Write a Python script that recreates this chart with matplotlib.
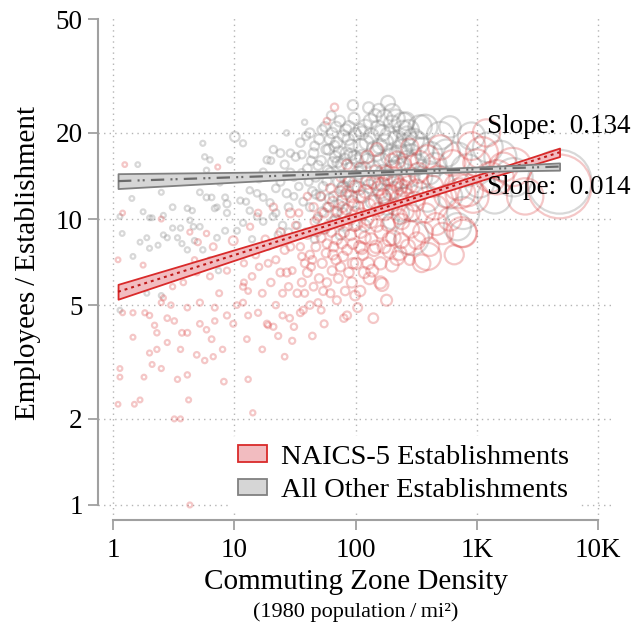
import numpy as np
import matplotlib.pyplot as plt
from matplotlib.patches import Patch

# Commuting zones: (density 1980 pop/mi2, employees per establishment, population in thousands)
red_points = [
    (1.1, 7.2, 10), (1.2, 10.5, 8), (1.25, 15.5, 8), (1.14, 3.0, 12), (1.14, 2.8, 10), (1.1, 2.25, 8), (1.46, 3.86, 15), (1.2, 4.7, 12), (1.46, 4.7, 20), (1.77, 6.9, 15),
    (1.83, 4.7, 20), (2.0, 3.4, 18), (1.8, 2.8, 10), (1.5, 2.25, 10), (1.67, 2.33, 12), (1.6, 6.0, 10), (2.5, 10.0, 15), (2.1, 3.1, 15), (2.5, 3.0, 20), (2.3, 3.5, 25),
    (2.8, 3.7, 20), (3.4, 2.75, 25), (4.1, 2.85, 30), (4.2, 2.33, 15), (3.2, 2.0, 15), (3.6, 2.0, 15), (4.3, 1.0, 15), (4.9, 3.35, 40), (5.7, 3.2, 30), (6.7, 3.3, 25),
    (8.2, 2.7, 40), (2.0, 4.6, 30), (2.2, 4.25, 25), (2.3, 4.0, 30), (2.8, 4.5, 40), (3.2, 4.4, 35), (3.7, 4.0, 45), (4.1, 4.0, 50), (5.2, 4.3, 40), (5.9, 4.1, 35),
    (6.5, 3.8, 45), (3.6, 3.5, 25), (6.9, 4.9, 50), (8.7, 4.6, 60), (9.8, 4.3, 50), (2.6, 5.3, 20), (4.1, 4.9, 40), (5.2, 5.1, 60), (6.9, 4.4, 30), (4.9, 6.5, 40),
    (6.3, 6.3, 50), (5.0, 8.3, 60), (4.3, 9.0, 20), (4.7, 7.2, 30), (3.8, 6.0, 35), (3.1, 5.8, 25), (2.5, 5.1, 20), (9.8, 8.4, 200), (6.7, 8.0, 90), (6.7, 7.0, 40),
    (8.7, 6.6, 60), (7.5, 5.5, 50), (8.0, 3.5, 30), (3.0, 5.0, 30), (7.3, 15.2, 15), (5.9, 8.9, 30),
    (11.8, 5.8, 60), (14, 6.3, 80), (11.8, 5.1, 50), (13, 2.75, 30), (14.2, 2.1, 25), (12.7, 3.8, 40), (19, 4.25, 50), (23, 3.9, 60), (13, 4.6, 50), (15.7, 4.7, 60),
    (18.6, 4.3, 70), (21, 4.2, 60), (17, 3.5, 40), (28.6, 4.5, 80), (26, 3.3, 40), (12, 7.0, 60), (15, 7.5, 100), (17, 5.5, 90), (20, 6.0, 120), (22, 7.2, 100),
    (25, 5.5, 90), (27, 6.5, 150), (15.7, 10.5, 80), (13.5, 9.4, 60), (18, 8.5, 120), (24, 9.0, 150), (29, 8.0, 130), (16, 6.8, 70), (13, 5.6, 40), (22, 5.0, 70),
    (28, 5.8, 110), (26, 7.8, 160), (19, 7.0, 90), (24, 6.5, 140), (21, 11.0, 120), (29, 10.5, 200), (17, 8.0, 80), (12, 6.0, 50), (10.5, 5.0, 40), (25, 4.6, 60),
    (30, 3.75, 60), (31, 4.2, 70), (35, 4.7, 90), (37, 4.8, 100), (42, 5.0, 120), (44, 3.9, 80), (49, 5.1, 100), (85, 4.6, 150), (55, 4.3, 100), (33, 5.5, 120),
    (36, 6.0, 150), (40, 6.5, 200), (45, 5.8, 140), (50, 6.2, 180), (38, 7.0, 130), (42, 7.5, 160), (47, 8.0, 200), (53, 7.0, 220), (58, 6.0, 180), (62, 5.5, 150),
    (65, 7.5, 250), (70, 8.5, 300), (75, 6.8, 220), (80, 9.0, 280), (85, 7.8, 260), (90, 10.0, 350), (95, 8.2, 300), (60, 9.5, 240), (55, 10.5, 200), (48, 9.0, 180),
    (40, 8.8, 150), (35, 8.0, 120), (32, 9.5, 110), (45, 11.0, 170), (65, 11.5, 260), (75, 12.5, 300), (67, 24.6, 120), (58, 22.0, 80), (52, 12.0, 150), (88, 13.5, 320),
    (78, 11.0, 280), (92, 12.0, 400), (98, 9.5, 380), (68, 10.0, 230), (72, 6.2, 200), (82, 5.6, 180), (88, 6.5, 250), (95, 7.0, 300), (58, 8.2, 190), (62, 12.8, 200),
    (85, 15.5, 250), (80, 4.5, 120), (70, 5.2, 150), (38, 5.5, 100), (43, 6.8, 130), (56, 9.2, 180), (64, 6.6, 200), (99, 5.4, 250), (76, 14.0, 240), (34, 10.5, 100),
    (40, 12.0, 110), (52, 4.8, 90),
    (46, 9.8, 170), (52, 8.6, 200), (57, 7.6, 190), (63, 9.0, 220), (69, 7.2, 240), (74, 9.6, 260), (79, 7.4, 250), (84, 10.8, 300), (91, 8.8, 320), (97, 11.2, 380),
    (60, 11.0, 220), (66, 8.0, 230), (71, 10.6, 260), (77, 8.2, 260), (83, 12.2, 300), (93, 6.0, 280), (44, 7.2, 140), (49, 10.2, 160), (54, 5.6, 150), (36, 7.4, 110),
    (30, 6.6, 90),
    (105, 11.0, 350), (110, 9.0, 400), (115, 7.5, 300), (120, 12.5, 500), (125, 10.0, 450), (130, 6.2, 400), (135, 8.5, 420), (140, 13.5, 550), (145, 11.5, 500), (150, 9.5, 480),
    (160, 7.0, 450), (165, 5.9, 500), (170, 12.0, 600), (175, 10.5, 650), (180, 14.5, 600), (190, 8.5, 550), (200, 6.9, 500), (210, 11.0, 700), (220, 7.3, 600), (230, 13.0, 800),
    (240, 9.8, 750), (250, 15.5, 700), (260, 12.0, 900), (270, 8.0, 650), (280, 7.2, 300), (290, 10.5, 900), (110, 15.0, 400), (125, 16.5, 450), (150, 17.5, 500), (200, 16.0, 600),
    (180, 5.2, 350), (140, 4.5, 250), (104, 4.9, 200), (118, 6.5, 350), (155, 12.8, 550), (195, 13.8, 650), (230, 10.2, 700), (265, 14.0, 850), (100, 13.0, 400), (108, 8.0, 380),
    (112, 7.9, 400), (190, 7.7, 500), (230, 7.6, 600), (280, 17.8, 1000), (220, 16.1, 900), (160, 6.0, 450),
    (102, 9.6, 380), (107, 12.0, 420), (113, 10.4, 400), (119, 8.6, 420), (124, 13.4, 480), (129, 11.2, 460), (134, 9.8, 500), (142, 7.8, 450), (148, 14.6, 550), (153, 10.8, 520),
    (162, 9.0, 520), (168, 13.2, 600), (172, 8.0, 520), (178, 11.6, 640), (185, 9.6, 600), (193, 12.4, 700), (205, 8.6, 650), (215, 13.6, 750), (225, 11.8, 800), (238, 8.4, 700),
    (248, 12.8, 850), (258, 10.6, 850), (275, 13.2, 950), (285, 9.2, 900), (101, 7.0, 350), (109, 5.6, 300), (127, 7.0, 400), (137, 6.6, 420), (147, 8.0, 460),
    (320, 8.4, 900), (410, 8.0, 1100), (520, 8.9, 1500), (350, 7.0, 1000), (390, 7.4, 2500), (830, 12.6, 3500), (630, 15.7, 2200), (500, 17.8, 2000), (390, 16.5, 1800), (320, 12.6, 1500),
    (450, 11.0, 2000), (600, 10.0, 1800), (700, 13.0, 2500), (550, 12.0, 1600), (380, 10.5, 1200), (330, 14.5, 1300), (750, 9.0, 3000), (900, 18.0, 2600), (480, 14.0, 1700), (650, 7.5, 1200),
    (730, 12.3, 3000), (930, 11.9, 3200), (770, 8.9, 2500), (310, 11.5, 1200), (360, 9.0, 1300), (430, 13.0, 1500), (340, 16.0, 1200), (460, 9.6, 1600),
    (1000, 15.7, 2500), (1290, 14.0, 3000), (1650, 15.2, 2800), (1450, 14.0, 4000), (1970, 15.2, 5000), (4800, 13.0, 14000), (1100, 17.0, 3500), (2500, 12.0, 4500), (1200, 20.0, 2500),
]

gray_points = [
    (1.43, 11.8, 12), (2.5, 12.4, 15), (2.0, 10.1, 12), (2.1, 10.1, 10), (1.19, 8.9, 10), (1.46, 7.4, 10), (2.6, 8.8, 15), (3.1, 9.3, 20), (3.4, 8.6, 20), (4.1, 10.9, 30),
    (4.5, 10.7, 25), (3.7, 8.2, 20), (5.5, 18.4, 20), (5.9, 11.9, 50), (6.5, 11.9, 40), (7.2, 11.0, 30), (5.7, 16.5, 25), (6.3, 16.1, 30), (4.6, 9.4, 30), (5.2, 9.4, 35),
    (4.3, 9.9, 25), (2.6, 10.3, 15), (1.9, 8.6, 12), (1.67, 8.3, 10), (1.14, 10.2, 10), (2.0, 7.9, 15), (3.6, 9.3, 25), (4.7, 8.4, 30), (7.2, 8.6, 40), (5.5, 7.8, 30),
    (8.4, 9.1, 50), (8.7, 10.5, 60), (1.77, 10.6, 12), (2.35, 8.1, 15), (2.8, 8.6, 20), (2.5, 5.4, 15), (1.9, 5.5, 12), (1.14, 4.8, 8), (3.6, 6.6, 20), (4.1, 7.8, 25),
    (6.3, 7.2, 30), (7.4, 6.6, 30), (5.2, 12.4, 40), (6.9, 10.9, 50), (8.7, 11.3, 100), (7.6, 13.4, 40), (5.9, 14.8, 30), (9.2, 16.1, 40), (3.1, 11.0, 40), (8.4, 11.9, 50),
    (1.3, 13.5, 8), (1.6, 15.5, 8),
    (10.1, 19.4, 250), (11.8, 18.4, 60), (18.6, 16.1, 100), (20, 16.0, 90), (17.3, 14.6, 100), (13.4, 12.6, 70), (15.4, 12.3, 80), (11.2, 11.6, 60), (12.5, 11.5, 60), (17.3, 11.9, 90),
    (19.7, 11.4, 110), (13.4, 10.7, 70), (15.4, 10.2, 70), (11.8, 9.7, 60), (10.5, 9.1, 50), (17.3, 9.8, 80), (20.8, 10.2, 100), (27, 20.0, 30), (24, 13.5, 150), (26, 15.5, 160),
    (22, 12.8, 130), (28, 11.0, 140), (25, 9.5, 120), (14, 8.5, 60), (23, 8.8, 100), (29, 14.5, 180), (21, 17.5, 120), (16, 13.8, 80), (12, 14.0, 50), (27, 12.3, 150),
    (19, 8.0, 70), (12, 7.5, 40), (24, 17.0, 140), (28, 9.0, 120), (22, 10.5, 110), (29, 17.0, 120),
    (38, 21.8, 30), (95, 25.0, 300), (32, 16.5, 150), (34, 13.0, 120), (35, 18.5, 180), (37, 11.5, 140), (40, 15.0, 200), (42, 20.0, 220), (44, 12.5, 180), (45, 17.0, 250),
    (47, 14.0, 200), (48, 10.0, 150), (50, 19.0, 260), (52, 16.0, 230), (54, 13.0, 210), (56, 21.0, 250), (58, 11.0, 180), (60, 17.5, 300), (62, 14.5, 280), (64, 20.0, 310),
    (66, 12.0, 250), (68, 16.5, 330), (70, 18.5, 350), (72, 13.5, 300), (74, 22.0, 320), (76, 15.5, 360), (78, 10.5, 280), (80, 19.5, 380), (82, 14.0, 350), (84, 17.0, 400),
    (86, 12.5, 320), (88, 21.0, 400), (90, 15.0, 420), (92, 18.0, 450), (94, 11.5, 350), (96, 13.0, 400), (98, 16.5, 480), (33, 9.5, 100), (39, 9.0, 120), (46, 8.5, 140),
    (55, 9.2, 170), (65, 9.8, 220), (75, 8.8, 250), (85, 9.5, 300), (36, 14.5, 130), (43, 16.0, 170), (51, 12.0, 200), (59, 14.8, 240), (67, 18.0, 280), (73, 11.2, 260),
    (81, 16.2, 340), (89, 13.8, 380), (31, 12.0, 90), (41, 13.5, 150), (57, 17.5, 230), (63, 23.0, 200), (71, 15.8, 300), (79, 13.0, 320), (87, 19.0, 380), (97, 22.5, 350),
    (46, 18.0, 200), (49, 15.4, 220), (53, 20.5, 240), (58, 13.6, 230), (61, 19.0, 270), (65, 15.8, 290), (69, 21.0, 300), (73, 17.2, 320), (77, 12.8, 310), (83, 20.5, 360),
    (91, 16.8, 400), (99, 19.8, 450), (42, 11.0, 150), (47, 12.2, 180), (53, 10.6, 200), (61, 11.8, 240), (69, 10.6, 270), (77, 11.6, 300), (36, 16.8, 140), (39, 19.5, 150),
    (31, 14.0, 100),
    (105, 14.5, 500), (110, 18.0, 600), (115, 12.0, 450), (120, 21.0, 650), (125, 16.0, 600), (130, 13.0, 550), (135, 19.5, 700), (140, 15.0, 700), (145, 23.0, 500), (150, 17.0, 750),
    (160, 12.5, 650), (165, 20.0, 800), (170, 14.5, 800), (175, 18.5, 850), (180, 11.0, 700), (190, 16.5, 900), (200, 21.5, 900), (210, 13.5, 950), (220, 19.0, 1000), (230, 15.5, 1100),
    (240, 17.5, 1200), (250, 12.0, 1000), (260, 22.0, 1000), (270, 16.0, 1300), (280, 14.0, 1200), (290, 8.6, 4000), (100, 10.5, 400), (108, 20.5, 450), (118, 9.5, 400), (128, 24.5, 350),
    (155, 24.0, 500), (185, 25.5, 600), (195, 9.8, 700), (235, 10.5, 900), (265, 19.5, 1200), (112, 16.5, 550), (138, 11.5, 600), (158, 18.0, 700), (205, 15.0, 900), (245, 20.5, 1100),
    (200, 23.6, 900), (245, 21.6, 1500),
    (103, 16.0, 480), (107, 12.8, 480), (113, 20.0, 520), (117, 15.0, 540), (123, 18.5, 600), (127, 13.8, 560), (133, 22.0, 600), (143, 17.6, 700), (148, 13.4, 650), (153, 20.8, 700),
    (163, 16.0, 750), (168, 12.0, 700), (173, 22.6, 800), (183, 14.0, 850), (188, 19.6, 900), (198, 17.0, 950), (208, 12.6, 900), (215, 22.5, 1000), (225, 16.8, 1050), (238, 13.8, 1100),
    (255, 18.2, 1200), (275, 20.5, 1300), (285, 16.8, 1400),
    (300, 19.0, 1500), (320, 18.4, 1800), (375, 21.0, 2000), (500, 19.6, 2500), (690, 16.5, 2800), (830, 14.8, 3500), (1230, 17.8, 3000), (1560, 16.5, 3500), (1050, 13.4, 3000), (770, 10.5, 3500),
    (690, 9.4, 2500), (500, 13.7, 2200), (390, 11.7, 2000), (450, 15.5, 1800), (600, 12.0, 2000), (350, 14.0, 1500), (420, 17.0, 1600), (900, 19.5, 2500), (2000, 14.0, 5000), (4800, 13.5, 14000),
    (1400, 12.0, 4000), (600, 21.0, 1500), (310, 15.5, 1600), (340, 21.0, 1800), (400, 14.5, 1800), (360, 17.6, 1700), (560, 17.0, 2500),
]

# fitted lines in log10 space, with CI half width sqrt(se0^2 + (se1*(lx - lx0))^2)
red_slope, red_icpt = 0.134, 0.740
gray_slope, gray_icpt = 0.014, 1.132
red_se = (0.011, 0.0092, 2.6)
gray_se = (0.007, 0.0098, 2.6)
fit_range = (1.1, 4800)

red_label = 'NAICS-5 Establishments'
gray_label = 'All Other Establishments'
x_ticks = [1, 10, 100, 1000, 10000]
x_ticklabels = ['1', '10', '100', '1K', '10K']
y_ticks = [1, 2, 5, 10, 20, 50]
y_ticklabels = ['1', '2', '5', '10', '20', '50']

plt.rcParams['font.family'] = ['Liberation Serif', 'DejaVu Serif']

red_ring = (0.85, 0.2, 0.2, 0.27)
gray_ring = (0.5, 0.5, 0.5, 0.30)
red_fill, red_edge, red_mid = '#f2bcc0', '#d92a2a', '#c01818'
gray_fill, gray_edge, gray_mid = '#d6d6d6', '#808080', '#6a6a6a'
axis_col = '#a0a0a0'

fig = plt.figure(figsize=(6.35, 6.3), dpi=100)
ax = fig.add_axes([98 / 635, 110 / 630, 517 / 635, 505 / 630])
ax.set_xscale('log')
ax.set_yscale('log')
ax.set_xlim(0.752, 13750)
ax.set_ylim(0.886, 51.7)


def marker_size(pop):
    return 10 + 0.15 * np.asarray(pop, dtype=float)


for pts, col in [(gray_points, gray_ring), (red_points, red_ring)]:
    x, y, p = map(np.array, zip(*pts))
    order = np.argsort(-p)
    ax.scatter(x[order], y[order], s=marker_size(p[order]), facecolors='none',
               edgecolors=[col], linewidths=1.6, zorder=2)

lx = np.linspace(np.log10(fit_range[0]), np.log10(fit_range[1]), 200)


def band(slope, icpt, se):
    mid = icpt + slope * lx
    hw = np.sqrt(se[0] ** 2 + (se[1] * (lx - se[2])) ** 2)
    return 10 ** lx, 10 ** mid, 10 ** (mid - hw), 10 ** (mid + hw)


bx, bm, blo, bhi = band(red_slope, red_icpt, red_se)
ax.fill_between(bx, blo, bhi, facecolor=red_fill, edgecolor=red_edge, lw=1.3, zorder=3)
ax.plot(bx, bm, color=red_mid, lw=1.5, ls=(0, (1.4, 1.9)), zorder=3.1)

bx, bm, blo, bhi = band(gray_slope, gray_icpt, gray_se)
ax.fill_between(bx, blo, bhi, facecolor=gray_fill, edgecolor=gray_edge, lw=1.3, zorder=4)
ax.plot(bx, bm, color=gray_mid, lw=1.6, ls=(0, (6.0, 2.8, 0.9, 1.4, 0.9, 2.8)), zorder=4.1)

# axes styling
ax.set_xticks(x_ticks)
ax.set_xticklabels(x_ticklabels)
ax.set_yticks(y_ticks)
ax.set_yticklabels(y_ticklabels)
ax.minorticks_off()
ax.tick_params(direction='out', length=7, width=1.3, color=axis_col, labelsize=19.5,
               labelcolor='black')
ax.tick_params(axis='x', pad=6)
ax.tick_params(axis='y', pad=4)
for side in ['top', 'right']:
    ax.spines[side].set_visible(False)
for side in ['left', 'bottom']:
    ax.spines[side].set_color(axis_col)
    ax.spines[side].set_linewidth(1.5)
ax.spines['left'].set_bounds(1, 50)
ax.spines['bottom'].set_bounds(1, 10000)
ax.grid(True, ls=(0, (1, 3)), color='#b4b4b4', lw=1, zorder=0)
ax.set_axisbelow(True)
ax.yaxis.get_gridlines()[-1].set_visible(False)

ax.text(1211, 21.0, 'Slope:  0.134', fontsize=19.5, va='center', ha='left', zorder=6)
ax.text(1211, 12.84, 'Slope:  0.014', fontsize=19.5, va='center', ha='left', zorder=6)

handles = [Patch(facecolor=red_fill, edgecolor=red_edge, lw=1.3, label=red_label),
           Patch(facecolor=gray_fill, edgecolor=gray_edge, lw=1.3, label=gray_label)]
leg = ax.legend(handles=handles, loc='upper left', bbox_to_anchor=(0.255, 0.166),
                frameon=True, facecolor='white', edgecolor='none', framealpha=1,
                fontsize=20.5, handlelength=1.0, handleheight=0.5, handletextpad=0.5,
                labelspacing=0.3, borderpad=0.3, borderaxespad=0)
leg.set_zorder(7)

fig.text(356 / 635, 1 - 582 / 630, 'Commuting Zone Density', ha='center', va='center',
         fontsize=21)
fig.text(356 / 635, 1 - 612 / 630, '(1980 population\u2009/\u2009mi\u00b2)', ha='center',
         va='center', fontsize=16)
fig.text(28 / 635, 1 - 263 / 630, 'Employees\u2009/\u2009Establishment', rotation=90,
         ha='center', va='center', fontsize=21)

fig.savefig('out.png', dpi=100)
